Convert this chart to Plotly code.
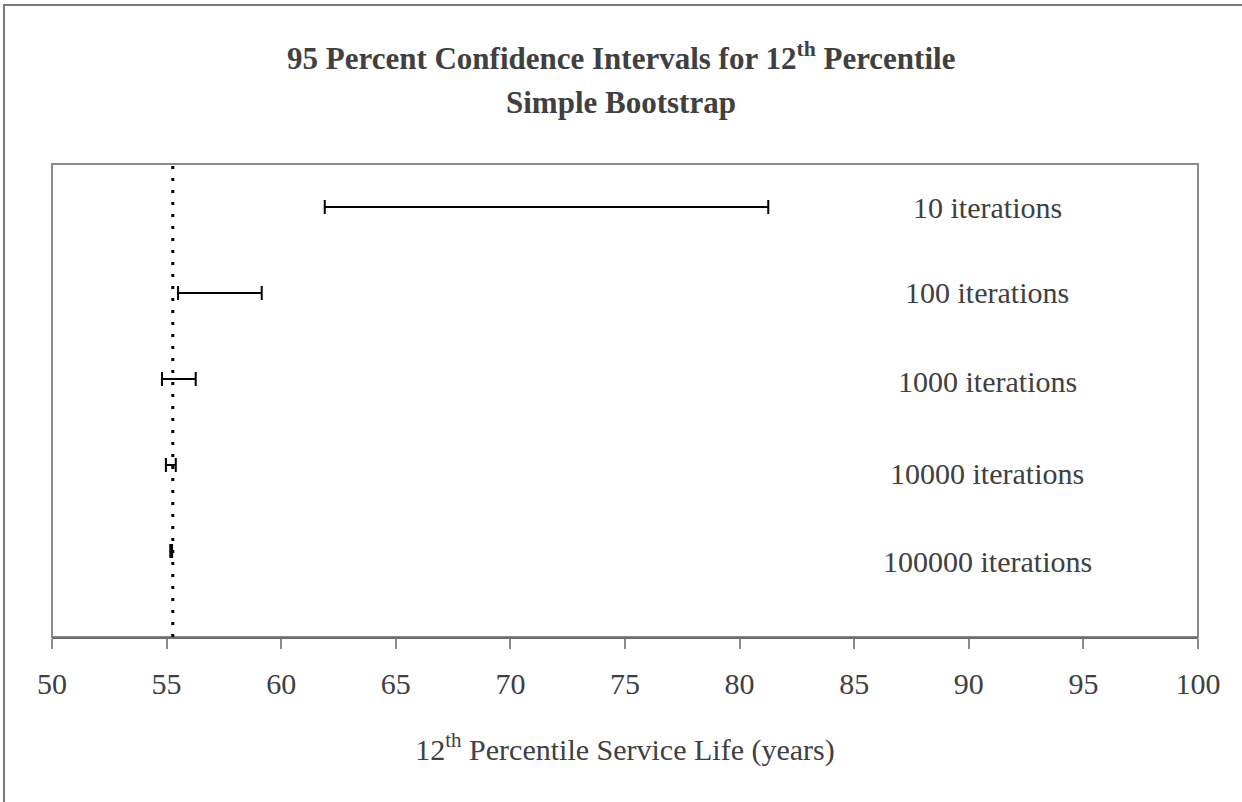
import plotly.graph_objects as go

# Bootstrap runs and their 95% confidence limits for the 12th percentile (years)
iterations = ["10 iterations", "100 iterations", "1000 iterations",
              "10000 iterations", "100000 iterations"]
lower = [61.9, 55.5, 54.8, 54.97, 55.16]
upper = [81.25, 59.15, 56.27, 55.40, 55.24]
row = [5, 4, 3, 2, 1]
reference_value = 55.27
x_ticks = [50, 55, 60, 65, 70, 75, 80, 85, 90, 95, 100]

mid = [(lo + hi) / 2 for lo, hi in zip(lower, upper)]
plus = [hi - m for hi, m in zip(upper, mid)]
minus = [m - lo for lo, m in zip(lower, mid)]

SERIF = "Liberation Serif, Times New Roman, serif"
TEXT = "#404040"
GRID = "#8c8c8c"

fig = go.Figure()

# dotted reference line across the full plot height
fig.add_trace(go.Scatter(
    x=[reference_value, reference_value], y=[0, 5.5], mode="lines",
    line=dict(color="black", width=3, dash="3px,9px"),
    hoverinfo="skip", showlegend=False))

# confidence intervals as horizontal error bars
fig.add_trace(go.Scatter(
    x=mid, y=row, mode="markers",
    marker=dict(size=1, color="rgba(0,0,0,0)"),
    error_x=dict(type="data", symmetric=False, array=plus, arrayminus=minus,
                 color="black", thickness=2, width=7),
    showlegend=False))

# run labels to the right
label_nudge = [0, 1, -2, -8, -10]
for name, r, dy in zip(iterations, row, label_nudge):
    fig.add_annotation(x=90.8, y=r, text=name, showarrow=False,
                       xanchor="center", yanchor="middle", yshift=dy,
                       font=dict(family=SERIF, size=30, color=TEXT))

# chart title
fig.add_annotation(xref="paper", yref="paper", x=0.4965, y=1.181,
                   text="<b>95 Percent Confidence Intervals for 12<sup>th</sup> Percentile</b>",
                   showarrow=False, xanchor="center", yanchor="bottom",
                   font=dict(family=SERIF, size=31, color=TEXT))
fig.add_annotation(xref="paper", yref="paper", x=0.4965, y=1.088,
                   text="<b>Simple Bootstrap</b>",
                   showarrow=False, xanchor="center", yanchor="bottom",
                   font=dict(family=SERIF, size=31, color=TEXT))

# plot-area frame and outer chart frame
fig.add_shape(type="rect", xref="paper", yref="paper", x0=0, x1=1, y0=0, y1=1,
              line=dict(color=GRID, width=2), layer="below")
fig.add_shape(type="path", xref="paper", yref="paper",
              path="M -0.0419 -0.5 L -0.0419 1.336 L 1.1 1.336",
              line=dict(color="#7a7a7a", width=2))

fig.update_layout(
    width=1242, height=802,
    margin=dict(l=52, r=44, t=164, b=165),
    paper_bgcolor="white", plot_bgcolor="white",
    xaxis=dict(range=[50, 100], tickvals=x_ticks, ticktext=[str(t) for t in x_ticks],
               showgrid=False, zeroline=False,
               showline=True, linecolor="#6e6e6e", linewidth=2,
               ticks="outside", ticklen=10, tickwidth=2, tickcolor=GRID,
               ticklabelstandoff=9,
               tickfont=dict(family=SERIF, size=30, color=TEXT),
               title=dict(text="12<sup>th</sup> Percentile Service Life (years)",
                          font=dict(family=SERIF, size=30, color=TEXT), standoff=40)),
    yaxis=dict(range=[0, 5.5], showgrid=False, zeroline=False,
               showticklabels=False, ticks="", showline=False),
)

fig.write_html("out.html")
